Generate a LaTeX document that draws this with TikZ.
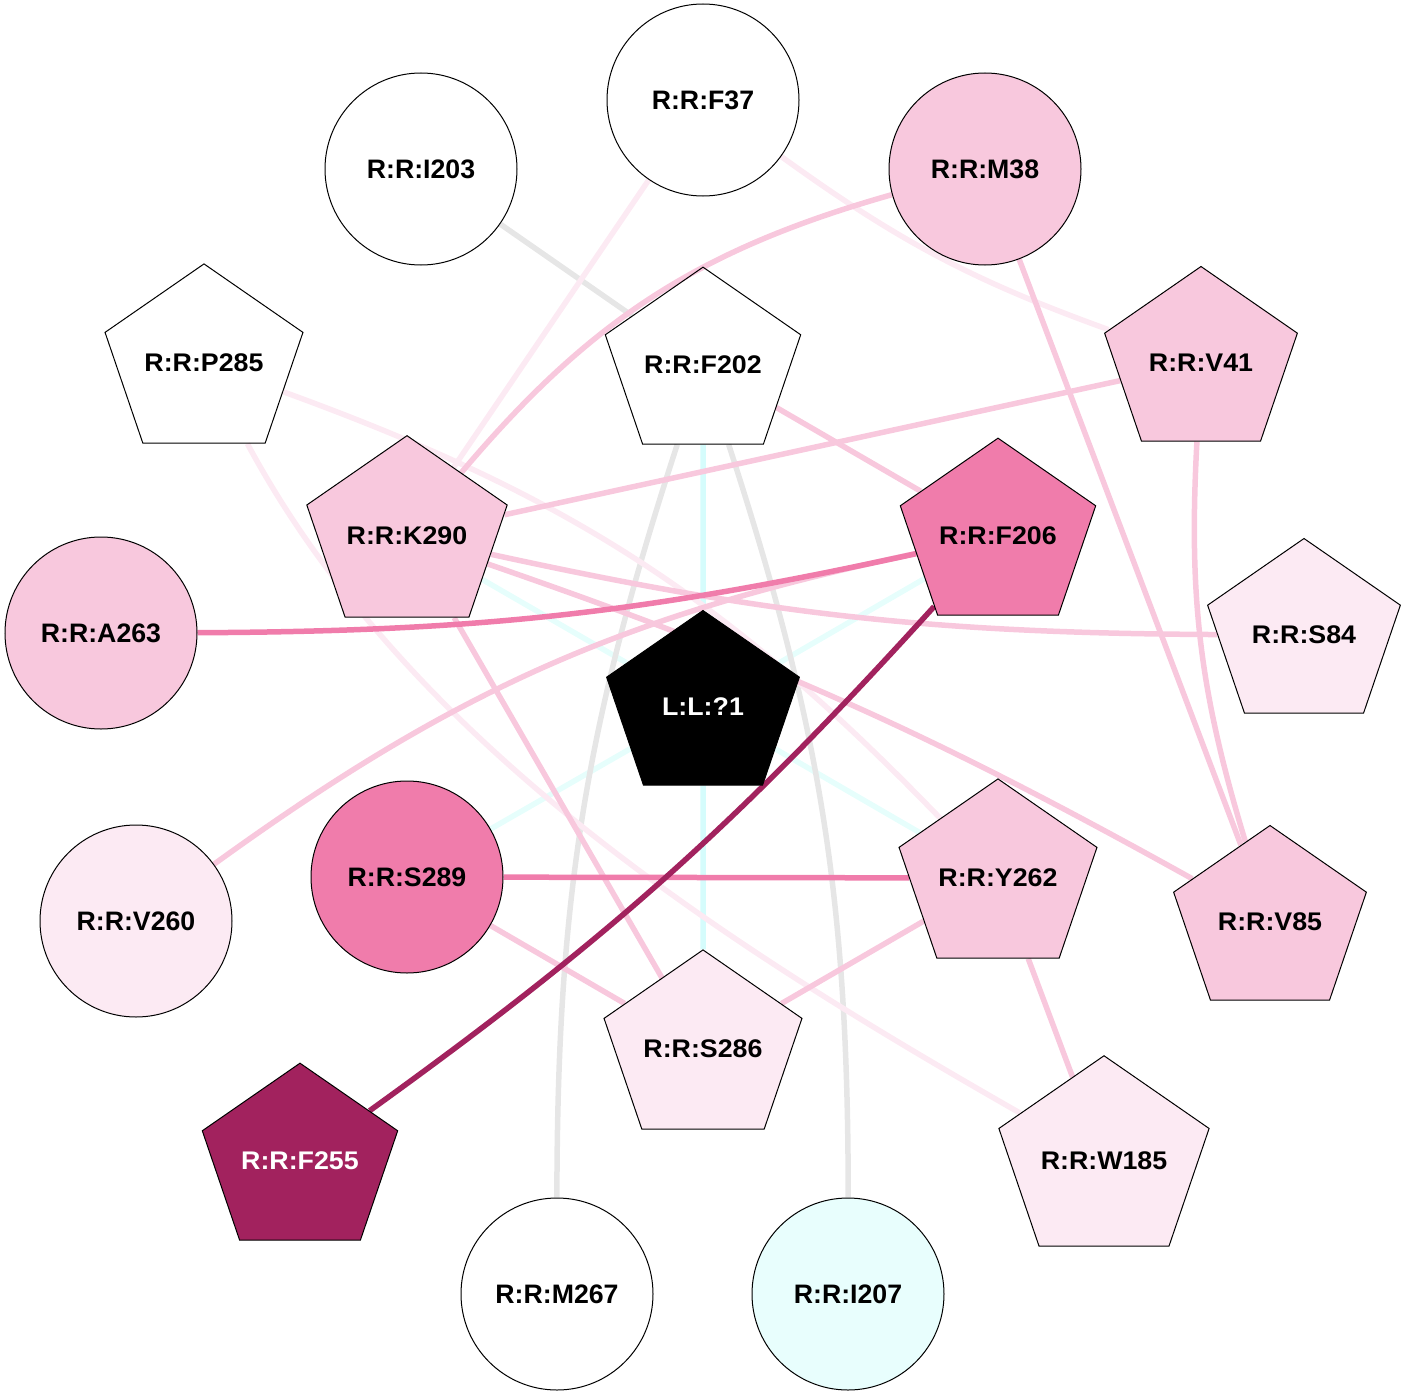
\documentclass[tikz,border=0pt]{standalone}
\usepackage{fontspec}
\setmainfont{Liberation Sans}
\usepackage{tikz}
\usetikzlibrary{shapes.geometric,backgrounds,positioning}
\definecolor{vlpink}{HTML}{FCEAF3}
\definecolor{lpink}{HTML}{F8C8DD}
\definecolor{mpink}{HTML}{F07CAB}
\definecolor{dmag}{HTML}{A2225E}
\definecolor{lgray}{HTML}{E6E6E6}
\definecolor{lcyan}{HTML}{E8FEFD}
\definecolor{cyanA}{HTML}{D5FCFC}
\definecolor{cyanB}{HTML}{E6FEFC}
\tikzstyle{res}=[circle, draw=black, line width=1pt, minimum size=192pt, inner sep=0pt, font=\bfseries\fontsize{26.7}{30}\selectfont]
\tikzstyle{pent}=[regular polygon, regular polygon sides=5, draw=black, line width=1pt, minimum size=193pt, inner sep=0pt, xscale=1.05, transform shape, font=\bfseries\fontsize{25.5}{30}\selectfont]
\tikzstyle{lnk}=[line width=5.5pt]

\begin{document}
\begin{tikzpicture}[x=1pt,y=1pt]
				\useasboundingbox(0,0)rectangle(1406,-1397);
				\node[res](F37)at(703,-100){R:R:F37};
				\node[res](I203)at(421,-169){R:R:I203};
				\node[res, fill=lpink](M38)at(985,-169){R:R:M38};
				\node[pent](P285)at(204,-363){R:R:P285};
				\node[pent](F202)at(703,-365){R:R:F202};
				\node[pent, fill=lpink](V41)at(1201,-363){R:R:V41};
				\node[pent, fill=lpink](K290)at(407,-536){R:R:K290};
				\node[pent, fill=mpink](F206)at(998,-536){R:R:F206};
				\node[res, fill=lpink](A263)at(101,-633){R:R:A263};
				\node[pent, fill=vlpink](S84)at(1304,-635){R:R:S84};
				\node[pent, fill=black, text=white](L1)at(703,-707){L:L:?1};
				\node[res, fill=vlpink](V260)at(136,-921){R:R:V260};
				\node[res, fill=mpink](S289)at(407,-877){R:R:S289};
				\node[pent, fill=lpink](Y262)at(998,-878){R:R:Y262};
				\node[pent, fill=lpink](V85)at(1270,-922){R:R:V85};
				\node[pent, fill=vlpink](S286)at(703,-1049){R:R:S286};
				\node[pent, fill=dmag, text=white](F255)at(300,-1161){R:R:F255};
				\node[pent, fill=vlpink](W185)at(1104,-1161){R:R:W185};
				\node[res](M267)at(557,-1294){R:R:M267};
				\node[res, fill=lcyan](I207)at(848,-1294){R:R:I207};
				\begin{scope}[on background layer]
				\draw[lnk, cyanA](F202)--(L1);
				\draw[lnk, cyanA](L1)--(S286);
				\draw[lnk, cyanB](K290)--(L1);
				\draw[lnk, cyanB](F206)--(L1);
				\draw[lnk, cyanB](S289)--(L1);
				\draw[lnk, cyanB](Y262)--(L1);
				\draw[lnk, lgray](I203)--(F202);
				\draw[lnk, lgray](F202)to[bend right=9](M267);
				\draw[lnk, lgray](F202)to[bend left=9](I207);
				\draw[lnk, vlpink](F37)--(K290);
				\draw[lnk, vlpink](F37)to[bend right=8](V41);
				\draw[lnk, vlpink](P285)to[bend left=13](Y262);
				\draw[lnk, vlpink](P285)to[out=-62, in=150, looseness=0.85](W185);
				\draw[lnk, lpink](K290)to[bend left=17](M38);
				\draw[lnk, lpink](M38)--(V85);
				\draw[lnk, lpink](V41)--(K290);
				\draw[lnk, lpink](V41)to[bend right=10](V85);
				\draw[lnk, lpink](F202)--(F206);
				\draw[lnk, lpink](K290)to[bend right=6](S84);
				\draw[lnk, lpink](K290)to[bend left=5](V85);
				\draw[lnk, lpink](K290)--(S286);
				\draw[lnk, lpink](F206)to[bend right=12](V260);
				\draw[lnk, lpink](S289)--(S286);
				\draw[lnk, lpink](Y262)--(S286);
				\draw[lnk, lpink](Y262)--(W185);
				\draw[lnk, mpink](A263)to[bend right=6](F206);
				\draw[lnk, mpink](S289)--(Y262);
				\draw[lnk, dmag](F206)to[bend left=6](F255);
				\end{scope}
\end{tikzpicture}
\end{document}
